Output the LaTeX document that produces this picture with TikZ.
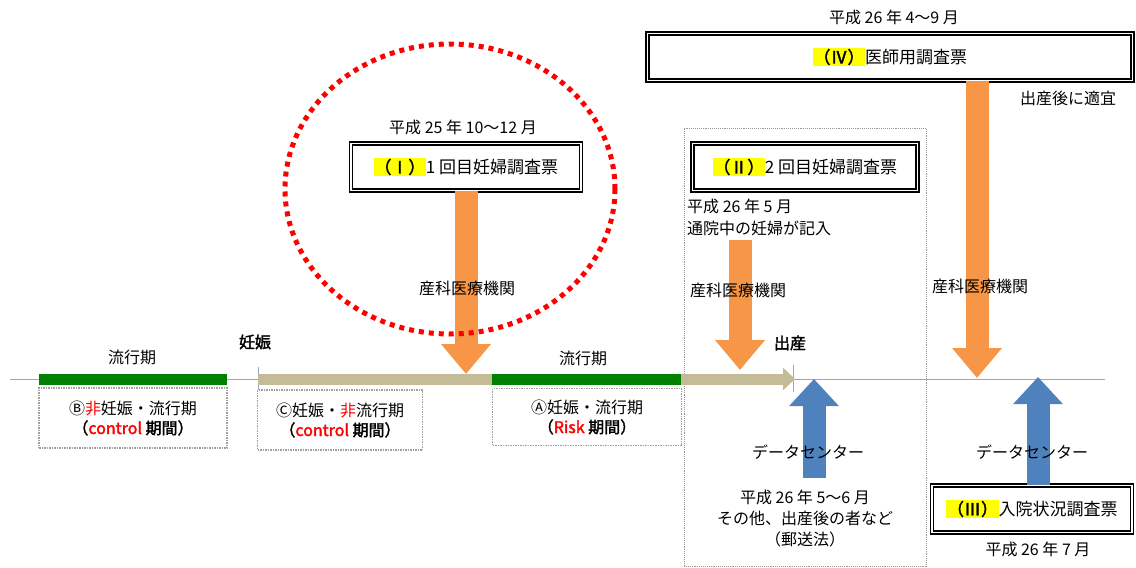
\documentclass[tikz,border=0pt]{standalone}
\usepackage{fontspec}
\setmainfont{Noto Sans CJK JP}[AutoFakeBold=2]
\usetikzlibrary{arrows.meta}
\definecolor{orng}{HTML}{F79646}
\definecolor{blu}{HTML}{4F81BD}
\definecolor{tanc}{HTML}{C4BC96}
\definecolor{grn}{HTML}{008000}
\definecolor{tl}{HTML}{8EAACB}
\definecolor{hly}{HTML}{FFFF00}
\newcommand\hlmark[1]{{\setlength{\fboxsep}{0.6pt}\colorbox{hly}{\bfseries #1}}}
\tikzset{
  lbl/.style={font=\fontsize{16}{21}\selectfont, inner sep=0pt},
  dbl/.style={draw=black, line width=1.4pt, double=white, double distance=1.8pt, fill=white,
              font=\fontsize{17}{21}\selectfont, inner sep=0pt},
  dotbox/.style={draw=gray!75, line width=1.5pt, densely dotted, align=center,
                 font=\fontsize{16}{20}\selectfont, inner sep=0pt},
  bigdot/.style={draw=gray!80, line width=0.9pt, densely dotted, inner sep=0pt},
  reddot/.style={draw=red, line width=5pt, dash pattern=on 5pt off 5pt},
  oarrow/.style={draw=orng, line width=23pt, -{Triangle[width=48pt,length=30pt]}},
  barrow/.style={draw=blu, line width=23pt, -{Triangle[width=48pt,length=27pt]}},
  tarrow/.style={draw=tanc, line width=11pt, -{Triangle[width=22pt,length=12pt]}},
  gbar/.style={draw=grn, line width=11pt},
  tline/.style={draw=tl, line width=1pt},
}
\begin{document}
\begin{tikzpicture}[x=1pt, y=-1pt]
\useasboundingbox[fill=white] (0,0) rectangle (1136,568);

% large dotted zone
\node[bigdot, minimum width=242pt, minimum height=438pt] (zone) at (805,347) {};

% timeline
\coordinate (L0) at (10,379);
\coordinate (L1) at (1105,379);
\draw[tline] (L0) -- (L1);
\coordinate (k1a) at (258,367); \coordinate (k1b) at (258,390);
\coordinate (k2a) at (793,365); \coordinate (k2b) at (793,392);
\draw[tline] (k1a) -- (k1b);
\draw[tline] (k2a) -- (k2b);

% tan arrow and green bars
\coordinate (tS) at (258,379); \coordinate (tE) at (795,379);
\draw[tarrow] (tS) -- (tE);
\coordinate (g1a) at (39,379); \coordinate (g1b) at (227,379);
\coordinate (g2a) at (492,379); \coordinate (g2b) at (681,379);
\draw[gbar] (g1a) -- (g1b);
\draw[gbar] (g2a) -- (g2b);

% period labels
\node[lbl] (r1) at (132,357) {流行期};
\node[lbl] (r2) at (583,358) {流行期};
\node[lbl, font=\fontsize{16}{20}\selectfont\bfseries] (nin) at (255,342) {妊娠};
\node[lbl, font=\fontsize{16}{20}\selectfont\bfseries] (shu) at (790,343) {出産};

% dotted period boxes
\node[dotbox, minimum width=188pt, minimum height=60pt] (pB) at (133,418)
  {Ⓑ\textcolor{red}{非}妊娠・流行期\\\textbf{（\textcolor{red}{control} 期間）}};
\node[dotbox, minimum width=165pt, minimum height=60pt] (pC) at (340,420)
  {Ⓒ妊娠・\textcolor{red}{非}流行期\\\textbf{（\textcolor{red}{control} 期間）}};
\node[dotbox, minimum width=189pt, minimum height=57pt] (pA) at (587,417)
  {Ⓐ妊娠・流行期\\\textbf{（\textcolor{red}{Risk} 期間）}};

% survey boxes
\node[dbl, minimum width=230pt, minimum height=47pt] (b1) at (466,167) {\hlmark{（Ⅰ）}1 回目妊婦調査票};
\node[dbl, minimum width=225pt, minimum height=47pt] (b2) at (805,167) {\hlmark{（Ⅱ）}2 回目妊婦調査票};
\node[dbl, minimum width=485pt, minimum height=47pt] (b4) at (890,57) {\hlmark{（Ⅳ）}医師用調査票};
\node[dbl, minimum width=200pt, minimum height=47pt] (b3) at (1032,509) {\hlmark{（Ⅲ）}入院状況調査票};

% date labels
\node[lbl] (d1) at (463,127) {平成 25 年 10～12 月};
\node[lbl, anchor=west] (d2) at (687,206) {平成 26 年 5 月};
\node[lbl, anchor=west] (d2b) at (687,228) {通院中の妊婦が記入};
\node[lbl] (d4) at (894,17) {平成 26 年 4～9 月};
\node[lbl] (d4b) at (1068,98) {出産後に適宜};
\node[lbl, align=center] (d5) at (805,519) {平成 26 年 5～6 月\\その他、出産後の者など\\（郵送法）};
\node[lbl] (d3) at (1038,549) {平成 26 年 7 月};

% orange arrows
\coordinate (o1) at (466,374);
\draw[oarrow] (b1.south) -- (o1);
\coordinate (o2s) at (740,240); \coordinate (o2) at (740,370);
\draw[oarrow] (o2s) -- (o2);
\coordinate (o4) at (977,378);
\draw[oarrow] (b4.south -| o4) -- (o4);

% blue arrows
\coordinate (bls) at (814,478); \coordinate (blt) at (814,379);
\draw[barrow] (bls) -- (blt);
\coordinate (brt) at (1038,377);
\draw[barrow] (b3.north -| brt) -- (brt);

% arrow labels
\node[lbl] (s1) at (467,288) {産科医療機関};
\node[lbl] (s2) at (738,290) {産科医療機関};
\node[lbl] (s4) at (980,286) {産科医療機関};
\node[lbl] (c1) at (808,452) {データセンター};
\node[lbl] (c2) at (1032,452) {データセンター};

% red highlight ellipse
\draw[reddot] (450,189) ellipse [x radius=165pt, y radius=145pt];
\end{tikzpicture}
\end{document}
